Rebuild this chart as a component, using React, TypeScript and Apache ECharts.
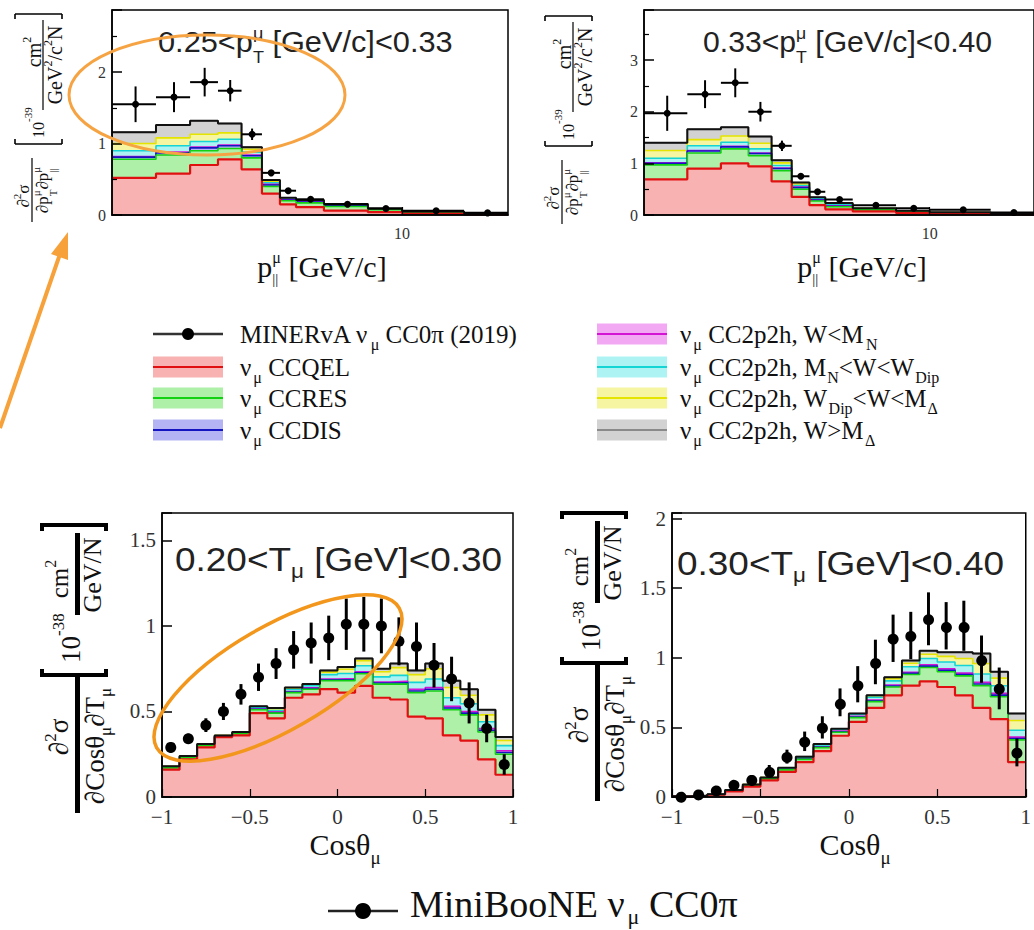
import React, { useEffect, useRef } from "react";
import * as echarts from "echarts";

const SERIF = '"Liberation Serif", "Times New Roman", serif';
const SANS = '"Liberation Sans", Arial, sans-serif';

// ---------------- data ----------------
const pParEdges = [1.5, 2, 2.5, 3, 3.5, 4, 4.5, 5, 6, 8, 10, 15, 20];
const cosEdges = [-1, -0.9, -0.8, -0.7, -0.6, -0.5, -0.4, -0.3, -0.2, -0.1, 0, 0.1, 0.2, 0.3, 0.4, 0.5, 0.6, 0.7, 0.8, 0.9, 1];

// Panel A : 0.25 < pT < 0.33 (MINERvA)
const aQEL = [0.52, 0.58, 0.70, 0.78, 0.64, 0.30, 0.15, 0.11, 0.06, 0.04, 0.02, 0.01];
const aRES = [0.26, 0.26, 0.20, 0.15, 0.16, 0.10, 0.05, 0.06, 0.06, 0.035, 0.02, 0.008];
const aDIS = [0.03, 0.03, 0.04, 0.04, 0.03, 0.02, 0.01, 0.01, 0.01, 0.005, 0.005, 0.001];
const aMecA = [0.01, 0.01, 0.01, 0.01, 0.01, 0.01, 0.005, 0.005, 0.005, 0.002, 0.001, 0];
const aMecB = [0.08, 0.09, 0.08, 0.08, 0.04, 0.02, 0.01, 0.01, 0.01, 0.003, 0.002, 0.001];
const aMecC = [0.10, 0.11, 0.10, 0.09, 0.04, 0.02, 0.01, 0.01, 0.005, 0.003, 0.001, 0];
const aMecD = [0.16, 0.18, 0.19, 0.13, 0.03, 0.02, 0.005, 0.005, 0.005, 0.002, 0.001, 0];
const aData = [1.55, 1.65, 1.86, 1.74, 1.13, 0.59, 0.34, 0.22, 0.15, 0.09, 0.06, 0.03];
const aErr = [0.25, 0.21, 0.20, 0.15, 0.08, 0.04, 0.03, 0.02, 0.02, 0.01, 0.01, 0.01];

// Panel B : 0.33 < pT < 0.40 (MINERvA)
const bQEL = [0.69, 0.90, 1.00, 0.94, 0.65, 0.35, 0.19, 0.11, 0.07, 0.04, 0.025, 0.012];
const bRES = [0.28, 0.30, 0.28, 0.21, 0.21, 0.15, 0.08, 0.05, 0.03, 0.02, 0.012, 0.008];
const bDIS = [0.03, 0.04, 0.04, 0.04, 0.04, 0.03, 0.02, 0.01, 0.01, 0.005, 0.003, 0.002];
const bMecA = [0.01, 0.01, 0.01, 0.01, 0.01, 0.01, 0.005, 0.01, 0.003, 0.002, 0.001, 0];
const bMecB = [0.09, 0.09, 0.08, 0.08, 0.05, 0.03, 0.02, 0.02, 0.01, 0.005, 0.004, 0.003];
const bMecC = [0.15, 0.12, 0.12, 0.11, 0.05, 0.03, 0.02, 0.02, 0.005, 0.005, 0.003, 0.003];
const bMecD = [0.15, 0.20, 0.17, 0.13, 0.05, 0.03, 0.01, 0.01, 0.005, 0.005, 0.003, 0.002];
const bData = [1.97, 2.34, 2.56, 2.00, 1.34, 0.75, 0.45, 0.30, 0.19, 0.13, 0.10, 0.05];
const bErr = [0.34, 0.27, 0.28, 0.19, 0.10, 0.05, 0.04, 0.03, 0.02, 0.015, 0.01, 0.01];

// Panel C : 0.20 < Tmu < 0.30 (MiniBooNE)
const cQEL = [0.16, 0.22, 0.29, 0.35, 0.36, 0.49, 0.46, 0.58, 0.60, 0.63, 0.61, 0.65, 0.58, 0.57, 0.47, 0.46, 0.36, 0.33, 0.22, 0.13];
const cRES = [0.01, 0.01, 0.01, 0.005, 0.01, 0.02, 0.03, 0.03, 0.03, 0.05, 0.07, 0.07, 0.08, 0.09, 0.14, 0.16, 0.15, 0.15, 0.16, 0.12];
const cDIS = [0, 0, 0, 0, 0, 0.002, 0.003, 0.003, 0.004, 0.005, 0.006, 0.006, 0.006, 0.008, 0.01, 0.01, 0.01, 0.01, 0.01, 0.01];
const cMecA = [0, 0, 0, 0, 0, 0.002, 0.003, 0.003, 0.004, 0.005, 0.006, 0.006, 0.006, 0.008, 0.01, 0.01, 0.01, 0.01, 0.01, 0.01];
const cMecB = [0.005, 0.005, 0.005, 0.003, 0.005, 0.008, 0.01, 0.012, 0.012, 0.025, 0.03, 0.035, 0.03, 0.035, 0.04, 0.05, 0.05, 0.045, 0.04, 0.03];
const cMecC = [0.003, 0.003, 0.003, 0.001, 0.003, 0.005, 0.01, 0.01, 0.008, 0.015, 0.025, 0.03, 0.03, 0.045, 0.045, 0.06, 0.06, 0.05, 0.04, 0.03];
const cMecD = [0.002, 0.002, 0.002, 0.001, 0.002, 0.003, 0.004, 0.002, 0.002, 0.01, 0.013, 0.013, 0.018, 0.024, 0.025, 0.03, 0.04, 0.035, 0.03, 0.02];
const cData = [0.29, 0.34, 0.42, 0.50, 0.60, 0.70, 0.78, 0.86, 0.90, 0.93, 1.01, 1.01, 1.00, 0.91, 0.88, 0.77, 0.69, 0.55, 0.40, 0.19];
const cErr = [0.03, 0.03, 0.04, 0.05, 0.06, 0.08, 0.09, 0.11, 0.12, 0.13, 0.15, 0.16, 0.16, 0.14, 0.14, 0.13, 0.13, 0.12, 0.08, 0.06];

// Panel D : 0.30 < Tmu < 0.40 (MiniBooNE)
const dQEL = [0.003, 0.007, 0.016, 0.04, 0.075, 0.12, 0.18, 0.25, 0.33, 0.44, 0.54, 0.64, 0.73, 0.80, 0.83, 0.79, 0.73, 0.64, 0.56, 0.25];
const dRES = [0.001, 0.002, 0.002, 0.005, 0.008, 0.01, 0.015, 0.02, 0.025, 0.025, 0.03, 0.045, 0.06, 0.08, 0.10, 0.11, 0.14, 0.16, 0.16, 0.16];
const dDIS = [0, 0, 0, 0, 0, 0.001, 0.001, 0.002, 0.003, 0.004, 0.005, 0.006, 0.007, 0.008, 0.01, 0.01, 0.01, 0.012, 0.012, 0.01];
const dMecA = [0, 0, 0, 0, 0, 0.001, 0.002, 0.003, 0.003, 0.004, 0.005, 0.006, 0.007, 0.008, 0.01, 0.01, 0.01, 0.012, 0.012, 0.01];
const dMecB = [0.001, 0.001, 0.001, 0.003, 0.004, 0.005, 0.007, 0.01, 0.012, 0.012, 0.013, 0.02, 0.03, 0.04, 0.045, 0.05, 0.055, 0.06, 0.055, 0.05];
const dMecC = [0, 0, 0.001, 0.001, 0.002, 0.002, 0.003, 0.003, 0.004, 0.003, 0.004, 0.008, 0.015, 0.025, 0.03, 0.04, 0.05, 0.075, 0.055, 0.07];
const dMecD = [0, 0, 0, 0.001, 0.001, 0.001, 0.002, 0.002, 0.003, 0.002, 0.003, 0.005, 0.011, 0.019, 0.025, 0.03, 0.045, 0.071, 0.046, 0.05];
const dData = [0.01, 0.02, 0.05, 0.09, 0.13, 0.19, 0.29, 0.40, 0.50, 0.68, 0.81, 0.97, 1.14, 1.16, 1.28, 1.23, 1.23, 0.99, 0.78, 0.32];
const dErr = [0.01, 0.01, 0.02, 0.02, 0.02, 0.04, 0.05, 0.07, 0.08, 0.10, 0.13, 0.16, 0.17, 0.17, 0.19, 0.17, 0.18, 0.17, 0.15, 0.10];

// component styling (bottom -> top of the stack)
const FILLS = ["#f8b2b2", "#aef0a8", "#b4b4f4", "#f3a8f3", "#aef3f3", "#f5f5a2", "#d2d2d2"];
const LINES = ["#e01010", "#12d012", "#1414c0", "#d414d4", "#14d4d4", "#e4e400", "#8a8a8a"];

// ---------------- helpers ----------------
let _ctx: CanvasRenderingContext2D | null = null;
function tw(t: string, s: number, fam: string) {
  if (!_ctx) _ctx = document.createElement("canvas").getContext("2d");
  _ctx!.font = `${s}px ${fam}`;
  return _ctx!.measureText(t).width;
}
type Part = { t: string; s: number; dy?: number; dx?: number; keep?: boolean; f?: string };
const Z = 100;
function textRun(x0: number, y: number, parts: Part[], fam = SERIF, align = "left", fill = "#111", sx = 1) {
  let x = 0, prevStart = 0;
  const placed: any[] = [];
  for (const p of parts) {
    const f = p.f || fam;
    const w = tw(p.t, p.s, f);
    const start = p.keep ? prevStart : x + (p.dx || 0);
    placed.push({ p, f, px: start });
    const end = start + w;
    x = p.keep ? Math.max(x, end) : end;
    prevStart = start;
  }
  const st = align === "center" ? x0 - (x * sx) / 2 : x0;
  return placed.map(({ p, f, px }) => ({
    type: "text", z: Z, silent: true,
    x: st + px * sx, y: y + (p.dy || 0), scaleX: sx,
    style: { text: p.t, fontSize: p.s, fontFamily: f, fill, textAlign: "left", textVerticalAlign: "middle", align: "left", verticalAlign: "middle" },
  }));
}
function ln(x1: number, y1: number, x2: number, y2: number, w: number, c = "#000") {
  return { type: "line", z: Z, silent: true, shape: { x1, y1, x2, y2 }, style: { stroke: c, lineWidth: w } };
}

function topYLabel(x0: number, y0: number) {
  const f = 17, fs = 11, fu = 20;
  const ch: any[] = [];
  ch.push(...textRun(24, 8, [{ t: "∂", s: f }, { t: "2", s: fs, dy: -6 }, { t: "σ", s: f }], SERIF, "center"));
  ch.push(ln(-2, 17, 62, 17, 1.2));
  ch.push(...textRun(30, 27, [
    { t: "∂p", s: f }, { t: "μ", s: fs, dy: -6 }, { t: "T", s: fs, dy: 11, keep: true },
    { t: "∂p", s: f }, { t: "μ", s: fs, dy: -6 }, { t: "||", s: fs, dy: 11, keep: true },
  ], SERIF, "center"));
  ch.push(ln(76, 0, 76, 47, 1.6), ln(76, 0, 81, 0, 1.6), ln(76, 47, 81, 47, 1.6));
  ch.push(...textRun(82, 23, [{ t: "10", s: 16 }, { t: "-39", s: 11, dy: -10 }]));
  ch.push(...textRun(168, 19, [{ t: "cm", s: fu }, { t: "2", s: 12, dy: -7 }], SERIF, "center"));
  ch.push(ln(110, 28, 200, 28, 1.2));
  ch.push(...textRun(155, 40, [{ t: "GeV", s: fu }, { t: "2", s: 12, dy: -7 }, { t: "/c", s: fu }, { t: "2", s: 12, dy: -7 }, { t: "N", s: fu }], SERIF, "center"));
  ch.push(ln(206, 0, 206, 47, 1.6), ln(206, 0, 201, 0, 1.6), ln(206, 47, 201, 47, 1.6));
  return { type: "group", x: x0, y: y0, rotation: Math.PI / 2, z: Z, children: ch };
}

function botYLabel(x0: number, y0: number) {
  const f = 27, fs = 17;
  const ch: any[] = [];
  ch.push(...textRun(76, 19, [{ t: "∂", s: f }, { t: "2", s: fs, dy: -9 }, { t: "σ", s: f }], SERIF, "center"));
  ch.push(ln(0, 37.5, 136, 37.5, 5));
  ch.push(...textRun(67, 55, [{ t: "∂Cosθ", s: f }, { t: "μ", s: fs, dy: 10 }, { t: "∂T", s: f }, { t: "μ", s: fs, dy: 10 }], SERIF, "center"));
  ch.push(ln(138, 0, 138, 68, 4), ln(136, 2, 144, 2, 4), ln(136, 66, 144, 66, 4));
  ch.push(...textRun(150, 31, [{ t: "10", s: f }, { t: "-38", s: fs, dy: -13 }]));
  ch.push(...textRun(234, 19, [{ t: "cm", s: 25 }, { t: "2", s: 16, dy: -9 }], SERIF, "center"));
  ch.push(ln(198, 37.5, 280, 37.5, 5));
  ch.push(...textRun(238, 52, [{ t: "GeV/N", s: 26 }], SERIF, "center"));
  ch.push(ln(288, 0, 288, 68, 4), ln(290, 2, 282, 2, 4), ln(290, 66, 282, 66, 4));
  return { type: "group", x: x0, y: y0, rotation: Math.PI / 2, z: Z, children: ch };
}

function stackSeries(gi: number, edges: number[], comps: number[][]) {
  const n = edges.length - 1;
  const cum: number[][] = [];
  let acc = new Array(n).fill(0);
  comps.forEach((c) => { acc = acc.map((v, i) => v + c[i]); cum.push(acc.slice()); });
  const toStep = (vals: number[]) => [...vals.map((v, i) => [edges[i], v]), [edges[n], vals[n - 1]]];
  const out: any[] = [];
  cum.forEach((vals, k) => {
    out.push({
      type: "line", xAxisIndex: gi, yAxisIndex: gi, step: "end", symbol: "none", silent: true,
      data: toStep(vals), z: 10 - k,
      lineStyle: { color: LINES[k], width: k === 0 ? 2.2 : 1.6 },
      areaStyle: { color: FILLS[k], opacity: 1 },
    });
  });
  out.push({
    type: "line", xAxisIndex: gi, yAxisIndex: gi, step: "end", symbol: "none", silent: true,
    data: toStep(cum[cum.length - 1]), z: 12, lineStyle: { color: "#111", width: 2 },
  });
  return out;
}

function pointSeries(gi: number, edges: number[], vals: number[], errs: number[], horiz: boolean, r: number, lw: number) {
  const pts = vals.map((v, i) => [(edges[i] + edges[i + 1]) / 2, v, errs[i], edges[i], edges[i + 1]]);
  return {
    type: "custom", xAxisIndex: gi, yAxisIndex: gi, z: 15, silent: true, clip: false,
    data: pts, encode: { x: 0, y: 1 },
    renderItem: (_p: any, api: any) => {
      const xc = api.value(0), y = api.value(1), e = api.value(2);
      const t = api.coord([xc, y + e]);
      const b = api.coord([xc, Math.max(0, y - e)]);
      const c = api.coord([xc, y]);
      const children: any[] = [
        { type: "line", shape: { x1: t[0], y1: t[1], x2: b[0], y2: b[1] }, style: { stroke: "#000", lineWidth: lw } },
        { type: "circle", shape: { cx: c[0], cy: c[1], r }, style: { fill: "#000" } },
      ];
      if (horiz) {
        const l = api.coord([api.value(3), y]);
        const rr = api.coord([api.value(4), y]);
        children.push({ type: "line", shape: { x1: l[0], y1: l[1], x2: rr[0], y2: rr[1] }, style: { stroke: "#000", lineWidth: lw } });
      }
      return { type: "group", children };
    },
  };
}

const axLine = { show: true, onZero: false, lineStyle: { color: "#000", width: 1.5 } };
function yAx(gi: number, max: number, interval: number, fs: number, minor: boolean) {
  return {
    type: "value", gridIndex: gi, min: 0, max, interval, z: 20,
    axisLine: axLine,
    axisTick: { show: true, inside: true, length: 10, lineStyle: { color: "#000", width: 1.5 } },
    minorTick: minor ? { show: true, splitNumber: 2, length: 5, lineStyle: { color: "#000", width: 1.2 } } : { show: false },
    splitLine: { show: false },
    axisLabel: {
      fontFamily: SERIF, fontSize: fs, color: "#333", margin: 6,
      formatter: (v: number) => {
        const k = v / interval;
        return Math.abs(k - Math.round(k)) < 1e-6 ? String(+v.toFixed(2)) : "";
      },
    },
  };
}
function xLogAx(gi: number) {
  return {
    type: "log", logBase: 10, gridIndex: gi, min: 1.5, max: 20, z: 20,
    axisLine: axLine,
    axisTick: { show: true, inside: true, length: 8, lineStyle: { color: "#000", width: 1.2 } },
    splitLine: { show: false },
    axisLabel: {
      fontFamily: SERIF, fontSize: 16, color: "#333", margin: 10, showMinLabel: false, showMaxLabel: false,
      formatter: (v: number) => (Math.abs(v - 10) < 1e-6 ? "10" : ""),
    },
  };
}
function xCosAx(gi: number) {
  return {
    type: "value", gridIndex: gi, min: -1, max: 1, interval: 0.5, z: 20,
    axisLine: axLine,
    axisTick: { show: true, inside: true, length: 8, lineStyle: { color: "#000", width: 1.2 } },
    splitLine: { show: false },
    axisLabel: { fontFamily: SERIF, fontSize: 21, color: "#333", margin: 9, formatter: (v: number) => String(v).replace("-", "−") },
  };
}

function buildOption() {
  const G: any[] = [];
  // y-axis titles
  G.push(topYLabel(15, 220));
  G.push(topYLabel(545, 222));
  G.push(botYLabel(40, 813));
  G.push(botYLabel(560, 801));

  // panel titles
  G.push(...textRun(158, 42, [{ t: "0.25<p", s: 29 }, { t: "μ", s: 17, dy: -9 }, { t: "T", s: 17, dy: 15, keep: true }, { t: " [GeV/c]<0.33", s: 29 }], SANS, "left", "#222", 1.06));
  G.push(...textRun(703, 42, [{ t: "0.33<p", s: 29 }, { t: "μ", s: 17, dy: -9 }, { t: "T", s: 17, dy: 15, keep: true }, { t: " [GeV/c]<0.40", s: 29 }], SANS, "left", "#222", 1.04));
  G.push(...textRun(175, 559, [{ t: "0.20<T", s: 33 }, { t: "μ", s: 20, dy: 12 }, { t: " [GeV]<0.30", s: 33 }], SANS, "left", "#222", 1.12));
  G.push(...textRun(677, 563, [{ t: "0.30<T", s: 33 }, { t: "μ", s: 20, dy: 12 }, { t: " [GeV]<0.40", s: 33 }], SANS, "left", "#222", 1.12));

  // x-axis titles
  const pTitle: Part[] = [{ t: "p", s: 30 }, { t: "μ", s: 16, dy: -9 }, { t: "||", s: 15, dy: 13, keep: true }, { t: " [GeV/c]", s: 30 }];
  G.push(...textRun(322, 266, pTitle, SERIF, "center"));
  G.push(...textRun(862, 266, pTitle, SERIF, "center"));
  const cTitle: Part[] = [{ t: "Cosθ", s: 30 }, { t: "μ", s: 19, dy: 13 }];
  G.push(...textRun(345, 844, cTitle, SERIF, "center"));
  G.push(...textRun(855, 844, cTitle, SERIF, "center"));

  // legend (middle)
  const LS = 25, LSS = 16;
  const rows = [334, 367, 398, 430];
  G.push(ln(153, rows[0], 223, rows[0], 2.5, "#333"));
  G.push({ type: "circle", z: Z, silent: true, shape: { cx: 188, cy: rows[0], r: 6 }, style: { fill: "#000" } });
  G.push(...textRun(240, rows[0], [{ t: "MINERvA ν", s: LS }, { t: "μ", s: LSS, dy: 10, dx: 2 }, { t: " CC0π (2019)", s: LS }]));
  const band = (x: number, y: number, k: number) => [
    { type: "rect", z: Z, silent: true, shape: { x, y: y - 10.5, width: 70, height: 21 }, style: { fill: FILLS[k] } },
    ln(x, y, x + 70, y, 2, LINES[k]),
  ];
  const nu: Part[] = [{ t: "ν", s: LS }, { t: "μ", s: LSS, dy: 10, dx: 2 }];
  G.push(...band(153, rows[1], 0), ...textRun(240, rows[1], [...nu, { t: " CCQEL", s: LS }]));
  G.push(...band(153, rows[2], 1), ...textRun(240, rows[2], [...nu, { t: " CCRES", s: LS }]));
  G.push(...band(153, rows[3], 2), ...textRun(240, rows[3], [...nu, { t: " CCDIS", s: LS }]));
  G.push(...band(597, rows[0], 3), ...textRun(680, rows[0], [...nu, { t: " CC2p2h, W<M", s: LS }, { t: "N", s: LSS, dy: 10, dx: 2 }]));
  G.push(...band(597, rows[1], 4), ...textRun(680, rows[1], [...nu, { t: " CC2p2h, M", s: LS }, { t: "N", s: LSS, dy: 10, dx: 1 }, { t: "<W<W", s: LS }, { t: "Dip", s: LSS, dy: 10, dx: 1 }]));
  G.push(...band(597, rows[2], 5), ...textRun(680, rows[2], [...nu, { t: " CC2p2h, W", s: LS }, { t: "Dip", s: LSS, dy: 10, dx: 1 }, { t: "<W<M", s: LS }, { t: "Δ", s: LSS, dy: 10, dx: 1 }]));
  G.push(...band(597, rows[3], 6), ...textRun(680, rows[3], [...nu, { t: " CC2p2h, W>M", s: LS }, { t: "Δ", s: LSS, dy: 10, dx: 1 }]));

  // legend (bottom)
  G.push(ln(328, 911, 398, 911, 2.5, "#222"));
  G.push({ type: "circle", z: Z, silent: true, shape: { cx: 363, cy: 911, r: 8 }, style: { fill: "#000" } });
  G.push(...textRun(410, 904, [{ t: "MiniBooNE ν", s: 38 }, { t: "μ", s: 22, dy: 12, dx: 3 }, { t: " CC0π", s: 38 }]));

  // annotations
  G.push({ type: "ellipse", z: Z + 5, silent: true, x: 207, y: 95, shape: { cx: 0, cy: 0, rx: 138, ry: 60 }, style: { fill: "none", stroke: "#f6a443", lineWidth: 3 } });
  G.push({ type: "ellipse", z: Z + 5, silent: true, x: 278, y: 678, rotation: Math.PI / 6, shape: { cx: 0, cy: 0, rx: 140, ry: 52 }, style: { fill: "none", stroke: "#f2961c", lineWidth: 3.5 } });
  G.push(ln(0, 428, 60, 254, 4, "#f6a13a"));
  G.push({ type: "polygon", z: Z + 5, silent: true, shape: { points: [[68, 232], [51, 254], [68, 260]] }, style: { fill: "#f6a13a" } });

  const gridBase = { show: true, borderColor: "#000", borderWidth: 1.5, backgroundColor: "transparent", z: 20 };
  return {
    animation: false,
    backgroundColor: "#fff",
    textStyle: { fontFamily: SERIF },
    grid: [
      { ...gridBase, left: 112, top: 10, width: 396, height: 205 },
      { ...gridBase, left: 644, top: 10, width: 396, height: 205 },
      { ...gridBase, left: 162, top: 513, width: 351, height: 284 },
      { ...gridBase, left: 672, top: 513, width: 355, height: 284 },
    ],
    xAxis: [xLogAx(0), xLogAx(1), xCosAx(2), xCosAx(3)],
    yAxis: [yAx(0, 2.87, 1, 16, true), yAx(1, 3.97, 1, 16, true), yAx(2, 1.66, 0.5, 21, false), yAx(3, 2.04, 0.5, 21, false)],
    series: [
      ...stackSeries(0, pParEdges, [aQEL, aRES, aDIS, aMecA, aMecB, aMecC, aMecD]),
      pointSeries(0, pParEdges, aData, aErr, true, 3.5, 2),
      ...stackSeries(1, pParEdges, [bQEL, bRES, bDIS, bMecA, bMecB, bMecC, bMecD]),
      pointSeries(1, pParEdges, bData, bErr, true, 3.5, 2),
      ...stackSeries(2, cosEdges, [cQEL, cRES, cDIS, cMecA, cMecB, cMecC, cMecD]),
      pointSeries(2, cosEdges, cData, cErr, false, 5.5, 3),
      ...stackSeries(3, cosEdges, [dQEL, dRES, dDIS, dMecA, dMecB, dMecC, dMecD]),
      pointSeries(3, cosEdges, dData, dErr, false, 5.5, 3),
    ],
    graphic: { elements: G },
  };
}

export default function App() {
  const ref = useRef<HTMLDivElement>(null);
  useEffect(() => {
    const chart = echarts.init(ref.current!, null, { renderer: "svg" });
    chart.setOption(buildOption() as any);
    return () => chart.dispose();
  }, []);
  return <div ref={ref} style={{ position: "fixed", left: 0, top: 0, width: 1034, height: 930, background: "#fff" }} />;
}
